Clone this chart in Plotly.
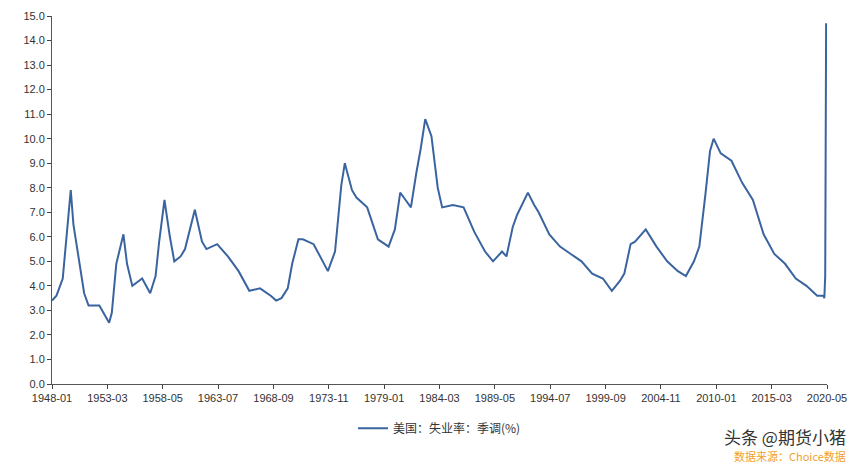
import plotly.graph_objects as go

# 美国失业率（季调），按图读取的关键月份
months = ["1948-01","1948-06","1949-01","1949-10","1950-01","1950-06","1951-01","1951-06","1952-06","1953-05",
          "1953-08","1954-01","1954-09","1955-01","1955-07","1956-06","1957-03","1957-09","1958-01","1958-07",
          "1959-01","1959-06","1960-01","1960-06","1961-05","1962-01","1962-06","1963-06","1964-06","1965-06",
          "1966-06","1967-06","1968-06","1968-12","1969-06","1970-01","1970-06","1971-01","1971-06","1972-06",
          "1973-06","1973-10","1974-06","1975-01","1975-05","1976-01","1976-06","1977-06","1978-06","1979-06",
          "1980-01","1980-07","1981-01","1981-07","1982-01","1982-06","1982-11","1983-06","1984-01","1984-06",
          "1985-06","1986-06","1987-06","1988-06","1989-03","1990-01","1990-06","1991-01","1991-06","1992-06",
          "1993-01","1993-06","1994-06","1995-06","1996-06","1997-06","1998-06","1999-06","2000-04","2001-01",
          "2001-06","2002-01","2002-06","2003-06","2004-06","2005-06","2006-06","2007-03","2007-12","2008-06",
          "2009-01","2009-06","2009-10","2010-06","2011-06","2012-06","2013-06","2014-06","2015-06","2016-06",
          "2017-06","2018-06","2019-06","2020-01","2020-02","2020-03","2020-04","2020-05"]
rate = [3.4,3.6,4.3,7.9,6.5,5.4,3.7,3.2,3.2,2.5,
        2.9,4.9,6.1,4.9,4.0,4.3,3.7,4.4,5.8,7.5,
        6.0,5.0,5.2,5.5,7.1,5.8,5.5,5.7,5.2,4.6,
        3.8,3.9,3.6,3.4,3.5,3.9,4.9,5.9,5.9,5.7,
        4.9,4.6,5.4,8.1,9.0,7.9,7.6,7.2,5.9,5.6,
        6.3,7.8,7.5,7.2,8.6,9.6,10.8,10.1,8.0,7.2,
        7.3,7.2,6.2,5.4,5.0,5.4,5.2,6.4,6.9,7.8,
        7.3,7.0,6.1,5.6,5.3,5.0,4.5,4.3,3.8,4.2,
        4.5,5.7,5.8,6.3,5.6,5.0,4.6,4.4,5.0,5.6,
        7.8,9.5,10.0,9.4,9.1,8.2,7.5,6.1,5.3,4.9,
        4.3,4.0,3.6,3.6,3.5,4.4,14.7,13.3]
tick_months = ["1948-01","1953-03","1958-05","1963-07","1968-09","1973-11","1979-01","1984-03",
               "1989-05","1994-07","1999-09","2004-11","2010-01","2015-03","2020-05"]

fig = go.Figure(go.Scatter(x=[m + "-01" for m in months], y=rate, mode="lines",
                           line=dict(color="#3a64a0", width=2), name="美国：失业率：季调(%)"))
fig.update_layout(
    width=861, height=463, paper_bgcolor="white", plot_bgcolor="white",
    margin=dict(l=44, r=42, t=8, b=87, autoexpand=False),
    font=dict(family="Liberation Sans, Noto Sans CJK SC, sans-serif", size=11, color="#333"),
    showlegend=True,
    legend=dict(orientation="h", x=0.5, xanchor="center", y=-0.12, yanchor="middle",
                font=dict(family="Noto Sans CJK SC", size=12)),
    xaxis=dict(type="date", range=["1948-01-01", "2020-05-01"],
               tickvals=[m + "-01" for m in tick_months], ticktext=tick_months,
               showgrid=False, showline=True, linecolor="#555", ticks="outside", ticklen=4),
    yaxis=dict(range=[0, 15], dtick=1, tickformat=".1f", showgrid=False, showline=True,
               linecolor="#555", ticks="outside", ticklen=4, zeroline=False),
)
fig.add_annotation(text="头条 @期货小猪", x=1.027, y=-0.144, xref="paper", yref="paper", xanchor="right",
                   yanchor="middle", showarrow=False, font=dict(family="Noto Sans CJK SC", size=17, color="#333"))
fig.add_annotation(text="数据来源：Choice数据", x=1.027, y=-0.196, xref="paper", yref="paper", xanchor="right",
                   yanchor="middle", showarrow=False, font=dict(family="Noto Sans CJK SC", size=11, color="#f0a030"))
fig.write_html("out.html")
